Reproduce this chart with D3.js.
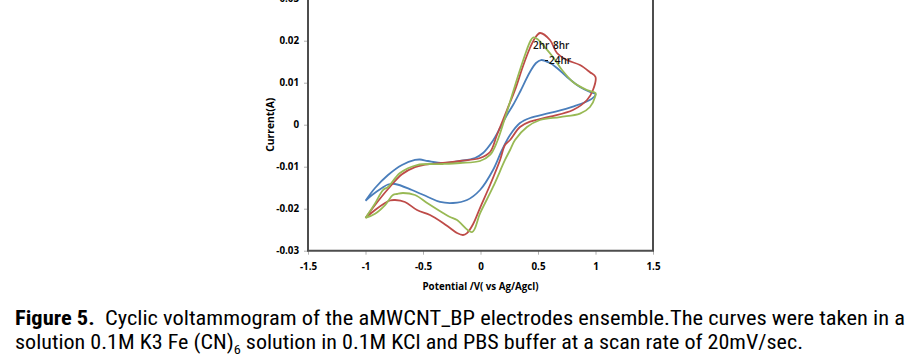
<!DOCTYPE html>
<html>
<head>
<meta charset="utf-8">
<script src="https://cdn.jsdelivr.net/npm/d3@7"></script>
<style>
  html, body { margin: 0; padding: 0; background: #fff; }
  svg { display: block; }
</style>
</head>
<body>
<svg id="chart" width="909" height="357"></svg>
<script>
// ---- data ----
const xTickValues = [-1.5, -1, -0.5, 0, 0.5, 1, 1.5];
const xTickLabels = ["-1.5", "-1", "-0.5", "0", "0.5", "1", "1.5"];
const yTickValues = [-0.03, -0.02, -0.01, 0, 0.01, 0.02, 0.03];
const yTickLabels = ["-0.03", "-0.02", "-0.01", "0", "0.01", "0.02", "0.03"];

// [potential V, current A] along each closed cyclic-voltammetry loop
const curveBlue = [
  [-1.0, -0.0181], [-0.917, -0.01507], [-0.804, -0.01198], [-0.683, -0.0096],
  [-0.570, -0.0084], [-0.526, -0.00829], [-0.457, -0.00864], [-0.326, -0.00912],
  [-0.178, -0.00864], [-0.048, -0.00793], [0.022, -0.00674], [0.100, -0.00412],
  [0.170, -0.00079], [0.230, 0.00231], [0.283, 0.00469], [0.343, 0.00779],
  [0.430, 0.01255], [0.483, 0.01469], [0.526, 0.0154], [0.604, 0.01469],
  [0.665, 0.0135], [0.752, 0.01136], [0.865, 0.00898], [0.952, 0.00779],
  [1.0, 0.00731], [0.97, 0.0062], [0.804, 0.0043], [0.604, 0.00279],
  [0.430, 0.0016], [0.343, 0.0004], [0.257, -0.00245], [0.187, -0.00602],
  [0.109, -0.01079], [-0.004, -0.01555], [-0.117, -0.01793], [-0.239, -0.01864],
  [-0.352, -0.0184], [-0.457, -0.01721], [-0.596, -0.01555], [-0.743, -0.01412],
  [-0.804, -0.01424], [-0.857, -0.01507], [-0.943, -0.01674], [-1.0, -0.0181]
];
const curveRed = [
  [-1.0, -0.0222], [-0.917, -0.01912], [-0.804, -0.01531], [-0.683, -0.0118],
  [-0.570, -0.0101], [-0.5, -0.0096], [-0.326, -0.00912], [-0.178, -0.00864],
  [-0.004, -0.00793], [0.083, -0.0065], [0.143, -0.00245], [0.230, 0.0035],
  [0.300, 0.00826], [0.370, 0.01398], [0.430, 0.01826], [0.474, 0.02064],
  [0.517, 0.02183], [0.604, 0.02017], [0.665, 0.01707], [0.752, 0.0154],
  [0.865, 0.01421], [0.952, 0.0125], [1.0, 0.01136], [0.978, 0.00826],
  [0.926, 0.00588], [0.804, 0.0035], [0.604, 0.00191], [0.430, 0.00072],
  [0.343, -0.00055], [0.257, -0.00364], [0.213, -0.00483], [0.170, -0.0084],
  [0.083, -0.01436], [0.0, -0.01955], [-0.065, -0.0237], [-0.117, -0.0258],
  [-0.152, -0.02626], [-0.204, -0.02579], [-0.265, -0.0246], [-0.326, -0.0234],
  [-0.439, -0.0215], [-0.552, -0.02031], [-0.657, -0.0184], [-0.743, -0.01793],
  [-0.787, -0.01805], [-0.830, -0.01864], [-0.917, -0.02031], [-1.0, -0.0222]
];
const curveGreen = [
  [-1.0, -0.0222], [-0.917, -0.01876], [-0.848, -0.01555], [-0.804, -0.01483],
  [-0.700, -0.0115], [-0.552, -0.0096], [-0.326, -0.00936], [-0.178, -0.00912],
  [-0.004, -0.00864], [0.083, -0.00721], [0.143, -0.00412], [0.213, 0.00159],
  [0.283, 0.00779], [0.343, 0.01302], [0.396, 0.01731], [0.430, 0.0197],
  [0.457, 0.02076], [0.500, 0.0203], [0.543, 0.01898], [0.630, 0.01612],
  [0.709, 0.01302], [0.804, 0.01017], [0.926, 0.00826], [1.0, 0.00755],
  [0.996, 0.0066], [0.952, 0.00421], [0.865, 0.00263], [0.691, 0.00183],
  [0.517, 0.00112], [0.404, -0.00055], [0.300, -0.00364], [0.257, -0.00602],
  [0.213, -0.0084], [0.109, -0.01483], [-0.004, -0.0211], [-0.074, -0.02555],
  [-0.204, -0.02269], [-0.265, -0.02198], [-0.326, -0.02102], [-0.457, -0.01876],
  [-0.570, -0.01674], [-0.674, -0.01626], [-0.726, -0.0165], [-0.761, -0.01674],
  [-0.830, -0.01912], [-0.917, -0.0212], [-1.0, -0.0222]
];
const seriesNames = ["blue", "red", "green"];
const seriesColors = ["#4a7ebb", "#be4b48", "#98b954"];
const seriesData = [curveBlue, curveRed, curveGreen];

// in-chart labels: [text, V, I]
const curveLabels = [["2hr", 0.457, 0.0181], ["8hr", 0.63, 0.0181], ["24hr", 0.596, 0.01445]];

const xTitle = "Potential /V( vs Ag/Agcl)";
const yTitle = "Current(A)";
const captionBold = "Figure 5.";
const captionLine1 = "  Cyclic voltammogram of the aMWCNT_BP electrodes ensemble.The curves were taken in a";
const captionLine2a = "solution 0.1M K3 Fe (CN)";
const captionSub = "6";
const captionLine2b = " solution in 0.1M  KCl and PBS buffer at a scan rate of 20mV/sec.";

// ---- drawing ----
const svg = d3.select("#chart");
const x = d3.scaleLinear().domain([-1.5, 1.5]).range([308, 653]);
const y = d3.scaleLinear().domain([-0.03, 0.03]).range([250.7, -1.3]);

const tickFont = "'Open Sans', 'DejaVu Sans', sans-serif";

// axes
const xAxis = d3.axisBottom(x).tickValues(xTickValues)
  .tickFormat((d, i) => xTickLabels[i]).tickSizeOuter(0).tickSizeInner(4).tickPadding(8);
const yAxis = d3.axisLeft(y).tickValues(yTickValues)
  .tickFormat((d, i) => yTickLabels[i]).tickSizeOuter(0).tickSizeInner(4).tickPadding(5);

const gx = svg.append("g").attr("transform", `translate(0,${y(-0.03)})`).call(xAxis);
const gy = svg.append("g").attr("transform", `translate(${x(-1.5)},0)`).call(yAxis);
[gx, gy].forEach(g => {
  g.select(".domain").remove();
  g.selectAll(".tick line").attr("stroke", "#b0b0b0").attr("stroke-width", 1);
  g.selectAll(".tick text").attr("fill", "#000").attr("font-family", tickFont)
    .attr("font-weight", "bold").attr("font-size", "9.8px");
});

// plot frame
svg.append("line").attr("x1", x(-1.5)).attr("x2", x(-1.5)).attr("y1", y(0.03)).attr("y2", y(-0.03))
  .attr("stroke", "#4d4d4d").attr("stroke-width", 2);
svg.append("line").attr("x1", x(-1.5) - 1).attr("x2", x(1.5) + 1).attr("y1", y(-0.03)).attr("y2", y(-0.03))
  .attr("stroke", "#4d4d4d").attr("stroke-width", 2);
svg.append("line").attr("x1", x(1.5)).attr("x2", x(1.5)).attr("y1", y(0.03)).attr("y2", y(-0.03))
  .attr("stroke", "#4d4d4d").attr("stroke-width", 2);

// curves
const line = d3.line().x(d => x(d[0])).y(d => y(d[1])).curve(d3.curveCatmullRom.alpha(0.5));
svg.append("g").selectAll("path").data(seriesData).join("path")
  .attr("d", line).attr("fill", "none")
  .attr("stroke", (d, i) => seriesColors[i]).attr("stroke-width", 1.8)
  .attr("stroke-linejoin", "round");

// labels
svg.append("g").selectAll("text").data(curveLabels).join("text")
  .attr("x", d => x(d[1])).attr("y", d => y(d[2]))
  .attr("font-family", tickFont).attr("font-size", "10px").attr("font-weight", 600).attr("fill", "#111")
  .text(d => d[0]);
svg.append("line").attr("x1", x(0.596) - 4).attr("x2", x(0.596) - 1)
  .attr("y1", y(0.01445) - 3.5).attr("y2", y(0.01445) - 3.5).attr("stroke", "#111").attr("stroke-width", 1);

// axis titles
svg.append("text").attr("x", x(0)).attr("y", 290).attr("text-anchor", "middle")
  .attr("font-family", tickFont).attr("font-weight", "bold").attr("font-size", "9.8px")
  .attr("textLength", 116).attr("lengthAdjust", "spacingAndGlyphs").text(xTitle);
svg.append("text").attr("transform", `translate(274,${y(0)}) rotate(-90)`).attr("text-anchor", "middle")
  .attr("font-family", tickFont).attr("font-weight", "bold").attr("font-size", "10px")
  .attr("textLength", 54).attr("lengthAdjust", "spacingAndGlyphs").text(yTitle);

// caption
const capFont = "'Liberation Sans Narrow', 'Roboto Condensed', 'Arial Narrow', 'Liberation Sans', sans-serif";
const cap1 = svg.append("text").attr("x", 15).attr("y", 325)
  .attr("font-family", capFont).attr("font-size", "20px").attr("fill", "#000")
  .attr("textLength", 890).attr("lengthAdjust", "spacingAndGlyphs");
cap1.append("tspan").attr("font-weight", "bold").text(captionBold);
cap1.append("tspan").attr("xml:space", "preserve").text(captionLine1);
const cap2 = svg.append("text").attr("x", 15).attr("y", 349)
  .attr("font-family", capFont).attr("font-size", "20px").attr("fill", "#000")
  .attr("textLength", 788).attr("lengthAdjust", "spacingAndGlyphs");
cap2.append("tspan").text(captionLine2a);
cap2.append("tspan").attr("font-size", "13px").attr("dy", 5).text(captionSub);
cap2.append("tspan").attr("dy", -5).text(captionLine2b);
</script>
</body>
</html>
